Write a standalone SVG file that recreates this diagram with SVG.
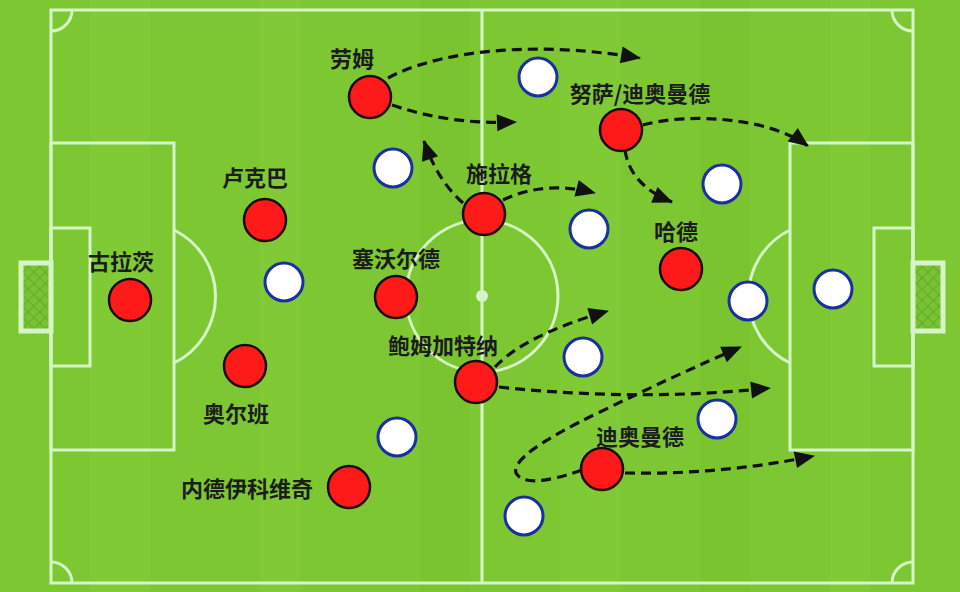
<svg xmlns="http://www.w3.org/2000/svg" width="960" height="592" viewBox="0 0 960 592">
<defs>
<style>
.line{fill:none;stroke:#d6f5c6;stroke-width:3}
.red{fill:#ff1a1a;stroke:#1a0a0a;stroke-width:2.5}
.white{fill:#ffffff;stroke:#1a2fa0;stroke-width:3}
.lbl{font-family:"Noto Sans CJK SC","Noto Sans",sans-serif;font-size:22px;font-weight:700;fill:#1c1c1c;text-anchor:middle;dominant-baseline:central}
.arr{fill:none;stroke:#111;stroke-width:3.2;stroke-dasharray:10 6;marker-end:url(#ah)}
</style>
<marker id="ah" markerUnits="userSpaceOnUse" markerWidth="22" markerHeight="18" refX="19" refY="8.5" orient="auto" overflow="visible">
<path d="M0,0 L20,8.5 L0,17 Z" fill="#111"/>
</marker>
<pattern id="net" width="8" height="8" patternUnits="userSpaceOnUse" patternTransform="rotate(45)">
<rect width="8" height="8" fill="#78c234"/>
<path d="M0,0 H8 M0,0 V8" stroke="#5fa52a" stroke-width="1.5"/>
</pattern>
</defs>
<rect width="960" height="592" fill="#7dc832"/>
<g opacity="0.5">
<rect x="90" y="0" width="60" height="592" fill="#84cc38"/>
<rect x="260" y="0" width="40" height="592" fill="#86cd3a"/>
<rect x="420" y="0" width="50" height="592" fill="#78c22e"/>
<rect x="560" y="0" width="60" height="592" fill="#84cc38"/>
<rect x="700" y="0" width="50" height="592" fill="#78c22e"/>
<rect x="830" y="0" width="40" height="592" fill="#84cc38"/>
</g>
<g id="pitch">
<rect class="line" x="51" y="10" width="862" height="573"/>
<line class="line" x1="482" y1="10" x2="482" y2="583"/>
<circle class="line" cx="482" cy="296" r="76"/>
<circle cx="482" cy="296" r="6" fill="#d6f5c6"/>
<path class="line" d="M51,31 A21,21 0 0 0 72,10"/>
<path class="line" d="M892,10 A21,21 0 0 0 913,31"/>
<path class="line" d="M51,562 A21,21 0 0 1 72,583"/>
<path class="line" d="M892,583 A21,21 0 0 1 913,562"/>
<rect class="line" x="51" y="143" width="123" height="307"/>
<rect class="line" x="51" y="228" width="39" height="138"/>
<path class="line" d="M174,230 A74,74 0 0 1 174,363"/>
<rect class="line" x="790" y="143" width="123" height="307"/>
<rect class="line" x="874" y="228" width="39" height="138"/>
<path class="line" d="M790,230 A74,74 0 0 0 790,363"/>
<rect x="21" y="263" width="30" height="68" fill="url(#net)" stroke="#d6f5c6" stroke-width="5"/>
<rect x="913" y="263" width="30" height="68" fill="url(#net)" stroke="#d6f5c6" stroke-width="5"/>
</g>
<g id="connectors">
<path class="arr" d="M388,78 C430,55 520,38 640,58"/>
<path class="arr" d="M392,105 Q450,125 516,122"/>
<path class="arr" d="M463,203 Q437,180 424,141"/>
<path class="arr" d="M503,200 Q545,180 595,193"/>
<path class="arr" d="M643,125 C690,112 770,118 808,146"/>
<path class="arr" d="M625,150 Q630,185 672,202"/>
<path class="arr" d="M495,367 Q525,335 608,311"/>
<path class="arr" d="M499,387 Q640,402 770,388"/>
<path class="arr" d="M582,470 Q525,490 516,473 Q510,455 600,412 Q680,373 741,347"/>
<path class="arr" d="M625,473 Q720,475 814,456"/>
</g>
<g id="opponents">
<circle class="white" cx="538" cy="77" r="19"/>
<circle class="white" cx="393" cy="168" r="19"/>
<circle class="white" cx="589" cy="229" r="19"/>
<circle class="white" cx="284" cy="282" r="19"/>
<circle class="white" cx="722" cy="184" r="19"/>
<circle class="white" cx="748" cy="301" r="19"/>
<circle class="white" cx="833" cy="289" r="19"/>
<circle class="white" cx="583" cy="357" r="19"/>
<circle class="white" cx="717" cy="419" r="19"/>
<circle class="white" cx="397" cy="437" r="19"/>
<circle class="white" cx="524" cy="516" r="19"/>
</g>
<g id="p-gulacs"><circle class="red" cx="130" cy="300" r="21"/><text class="lbl" x="121" y="260">古拉茨</text></g>
<g id="p-lukeba"><circle class="red" cx="265" cy="220" r="21"/><text class="lbl" x="255" y="176">卢克巴</text></g>
<g id="p-orban"><circle class="red" cx="245" cy="366" r="21"/><text class="lbl" x="236" y="412">奥尔班</text></g>
<g id="p-seiwald"><circle class="red" cx="396" cy="297" r="21"/><text class="lbl" x="396" y="257">塞沃尔德</text></g>
<g id="p-nedeljkovic"><circle class="red" cx="349" cy="487" r="21"/><text class="lbl" x="247" y="487">内德伊科维奇</text></g>
<g id="p-laimer"><circle class="red" cx="370" cy="97" r="21"/><text class="lbl" x="352" y="57">劳姆</text></g>
<g id="p-schlager"><circle class="red" cx="484" cy="214" r="21"/><text class="lbl" x="499" y="172">施拉格</text></g>
<g id="p-nusa"><circle class="red" cx="621" cy="130" r="21"/><text class="lbl" x="640" y="92">努萨/迪奥曼德</text></g>
<g id="p-baumgartner"><circle class="red" cx="476" cy="382" r="21"/><text class="lbl" x="443" y="344">鲍姆加特纳</text></g>
<g id="p-haidara"><circle class="red" cx="681" cy="269" r="21"/><text class="lbl" x="676" y="230">哈德</text></g>
<g id="p-diomande"><circle class="red" cx="602" cy="469" r="21"/><text class="lbl" x="640" y="435">迪奥曼德</text></g>
</svg>
